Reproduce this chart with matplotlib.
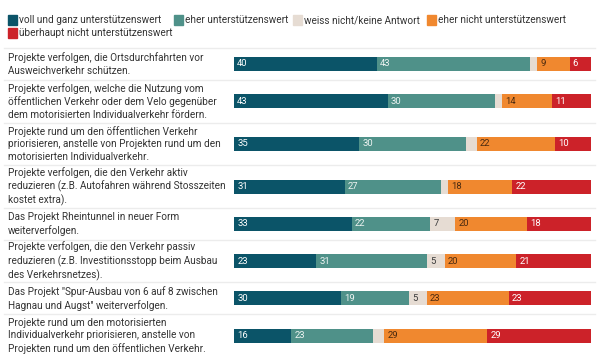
import matplotlib.pyplot as plt
from matplotlib.patches import Rectangle

# data
questions = [
    "Projekte verfolgen, die Ortsdurchfahrten vor\nAusweichverkehr schützen.",
    "Projekte verfolgen, welche die Nutzung vom\nöffentlichen Verkehr oder dem Velo gegenüber\ndem motorisierten Individualverkehr fördern.",
    "Projekte rund um den öffentlichen Verkehr\npriorisieren, anstelle von Projekten rund um den\nmotorisierten Individualverkehr.",
    "Projekte verfolgen, die den Verkehr aktiv\nreduzieren (z.B. Autofahren während Stosszeiten\nkostet extra).",
    "Das Projekt Rheintunnel in neuer Form\nweiterverfolgen.",
    "Projekte verfolgen, die den Verkehr passiv\nreduzieren (z.B. Investitionsstopp beim Ausbau\ndes Verkehrsnetzes).",
    "Das Projekt \"Spur-Ausbau von 6 auf 8 zwischen\nHagnau und Augst\" weiterverfolgen.",
    "Projekte rund um den motorisierten\nIndividualverkehr priorisieren, anstelle von\nProjekten rund um den öffentlichen Verkehr.",
]
categories = ["voll und ganz unterstützenswert", "eher unterstützenswert",
              "weiss nicht/keine Antwort", "eher nicht unterstützenswert",
              "überhaupt nicht unterstützenswert"]
voll = [40, 43, 35, 31, 33, 23, 30, 16]
eher = [43, 30, 30, 27, 22, 31, 19, 23]
weiss = [2, 2, 3, 2, 7, 5, 5, 3]
eher_nicht = [9, 14, 22, 18, 20, 20, 23, 29]
gar_nicht = [6, 11, 10, 22, 18, 21, 23, 29]
series = [voll, eher, weiss, eher_nicht, gar_nicht]

colors = ['#0b5468', '#4f9189', '#e6dcd3', '#f0882f', '#cc2229']
label_colors = ['white', '#eef4f2', '#3a3a3a', '#4a2a10', 'white']

W, H = 599, 363
fig = plt.figure(figsize=(W / 100, H / 100), dpi=100, facecolor='white')
plt.rcParams['font.family'] = ['Roboto', 'DejaVu Sans']

# bar axes spans the full height, y in pixels from the top
ax = fig.add_axes([234 / W, 0, 357 / W, 1])
ax.set_xlim(0, 100)
ax.set_ylim(H, 0)
ax.axis('off')

# row layout from the number of label lines
top = 48
heights = [32 if q.count('\n') == 1 else 42.6 for q in questions]
bounds = [top]
for h in heights:
    bounds.append(bounds[-1] + h)
centers = [(bounds[i] + bounds[i + 1]) / 2 for i in range(len(questions))]

# separators
for b in bounds[:-1]:
    fig.add_artist(plt.Line2D([4 / W, 595 / W], [1 - b / H, 1 - b / H],
                              color='#ececec', lw=1))

for i, q in enumerate(questions):
    fig.text(8 / W, 1 - centers[i] / H, q, ha='left', va='center',
             fontsize=7.2, color='#333333', linespacing=1.3)
    left = 0
    for k, s in enumerate(series):
        v = s[i]
        ax.barh(centers[i], v, left=left, height=14, color=colors[k],
                edgecolor='none')
        if v >= 4:
            ax.text(left + 0.9, centers[i], str(v), ha='left', va='center',
                    fontsize=6.8, color=label_colors[k])
        left += v

# legend
leg_pos = [(8, 20), (174, 20), (293, 20), (427, 20), (8, 33)]
for k, (lx, ly) in enumerate(leg_pos):
    fig.add_artist(Rectangle((lx / W, 1 - (ly + 4.5) / H), 9 / W, 9 / H,
                             color=colors[k], transform=fig.transFigure))
    fig.text((lx + 11) / W, 1 - ly / H, categories[k], ha='left',
             va='center', fontsize=7.2, color='#333333')

fig.savefig('out.png', dpi=100)
